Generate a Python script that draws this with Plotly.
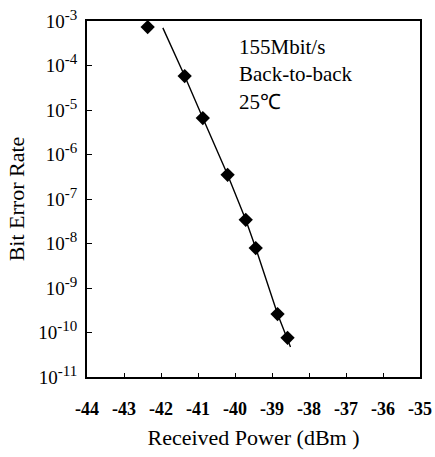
import plotly.graph_objects as go

# Measured data (received power in dBm, bit error rate)
power_dbm = [-42.36, -41.36, -40.87, -40.20, -39.71, -39.44, -38.85, -38.58]
ber = [7.3e-4, 5.8e-5, 6.6e-6, 3.5e-7, 3.4e-8, 7.9e-9, 2.6e-10, 7.6e-11]

# Fitted curve drawn through the data
fit_power = [-41.95, -41.36, -40.87, -40.20, -39.71, -39.44, -38.85, -38.50]
fit_ber = [7.0e-4, 5.8e-5, 6.6e-6, 3.5e-7, 3.4e-8, 7.9e-9, 2.6e-10, 4.7e-11]

x_ticks = [-44, -43, -42, -41, -40, -39, -38, -37, -36, -35]
y_ticks = [1e-3, 1e-4, 1e-5, 1e-6, 1e-7, 1e-8, 1e-9, 1e-10, 1e-11]
y_exponents = ["-3", "-4", "-5", "-6", "-7", "-8", "-9", "-10", "-11"]
annotation_lines = ["155Mbit/s", "Back-to-back", "25\u2103"]

serif = "Liberation Serif"
y_ticktext = ["10<sup><span style='font-size:15px'>%s</span></sup>" % e for e in y_exponents]

fig = go.Figure()
fig.add_trace(go.Scatter(x=fit_power, y=fit_ber, mode="lines",
                         line=dict(color="black", width=1.4), showlegend=False))
fig.add_trace(go.Scatter(x=power_dbm, y=ber, mode="markers",
                         marker=dict(symbol="diamond", size=11, color="black"),
                         showlegend=False, cliponaxis=False))

fig.add_annotation(x=0.45, y=0.965, xref="paper", yref="paper", xanchor="left", yanchor="top",
                   text="<br>".join(annotation_lines), showarrow=False, align="left",
                   font=dict(family=serif, size=21, color="black"))

fig.update_layout(
    width=435, height=457,
    margin=dict(l=87, r=15, t=21, b=80),
    paper_bgcolor="white", plot_bgcolor="white",
    font=dict(family=serif, color="black"),
    xaxis=dict(range=[-44, -35], tickvals=x_ticks, ticktext=[str(v) for v in x_ticks],
               ticks="inside", ticklen=4, tickwidth=1, tickcolor="black",
               showline=True, linecolor="black", linewidth=2, mirror=True,
               showgrid=False, zeroline=False, automargin=False,
               ticklabelstandoff=14,
               tickfont=dict(family=serif, size=18, color="black", weight="bold"),
               title=dict(text="Received Power (dBm )", font=dict(family=serif, size=22), standoff=12)),
    yaxis=dict(type="log", range=[-11, -3], tickvals=y_ticks, ticktext=y_ticktext,
               ticks="inside", ticklen=5, tickwidth=1, tickcolor="black",
               showline=True, linecolor="black", linewidth=2, mirror=True,
               showgrid=False, zeroline=False, automargin=False,
               ticklabelstandoff=4,
               tickfont=dict(family=serif, size=19, color="black"),
               title=dict(text="Bit Error Rate", font=dict(family=serif, size=22), standoff=8)),
)

fig.write_html("out.html", config={"displayModeBar": False},
               post_script="document.body.style.margin='0';")
